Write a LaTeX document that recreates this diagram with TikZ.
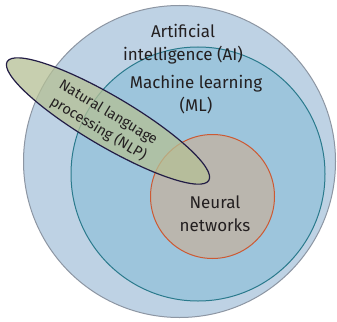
\documentclass[tikz,border=0pt]{standalone}
\usepackage{fontspec}
\setmainfont{Fira Sans}
\definecolor{aifill}{HTML}{BED2E4}
\definecolor{ailine}{HTML}{8D96A3}
\definecolor{mlfill}{HTML}{9DC5DC}
\definecolor{mlline}{HTML}{2A7A8C}
\definecolor{nnfill}{HTML}{BAB6AE}
\definecolor{nnline}{HTML}{CC5A34}
\definecolor{nlpfill}{HTML}{B5C095}
\definecolor{nlpline}{HTML}{221C45}
\definecolor{txt}{HTML}{231F20}
\tikzset{
  bigtext/.style={text=txt, align=center, font=\fontsize{17}{23}\selectfont, inner sep=0pt},
  smalltext/.style={text=txt, align=center, font=\fontsize{14.5}{19}\selectfont, inner sep=0pt},
}
\begin{document}
\begin{tikzpicture}[x=1pt,y=-1pt]
\useasboundingbox (0,0) rectangle (337,321);
\fill[white] (0,0) rectangle (337,321);
\draw[ailine, fill=aifill, line width=1pt] (179.5,161.5) circle [radius=156];
\draw[mlline, fill=mlfill, line width=1pt] (198,174) circle [radius=127];
\draw[nnline, fill=nnfill, line width=1pt] (212.5,196.5) circle [radius=62];
\draw[nlpline, line width=1.2pt, fill=nlpfill, fill opacity=0.75, rotate around={-30.5:(108,121)}] (108,121) ellipse [x radius=117, y radius=25];
\node[bigtext] (ai) at (183,44) {Artificial\\intelligence (AI)};
\node[bigtext] (ml) at (196,94.5) {Machine learning\\(ML)};
\node[bigtext] (nn) at (215,214) {Neural\\networks};
\node[smalltext, rotate=-31] (nlp) at (103,121) {Natural language\\processing (NLP)};
\end{tikzpicture}
\end{document}
